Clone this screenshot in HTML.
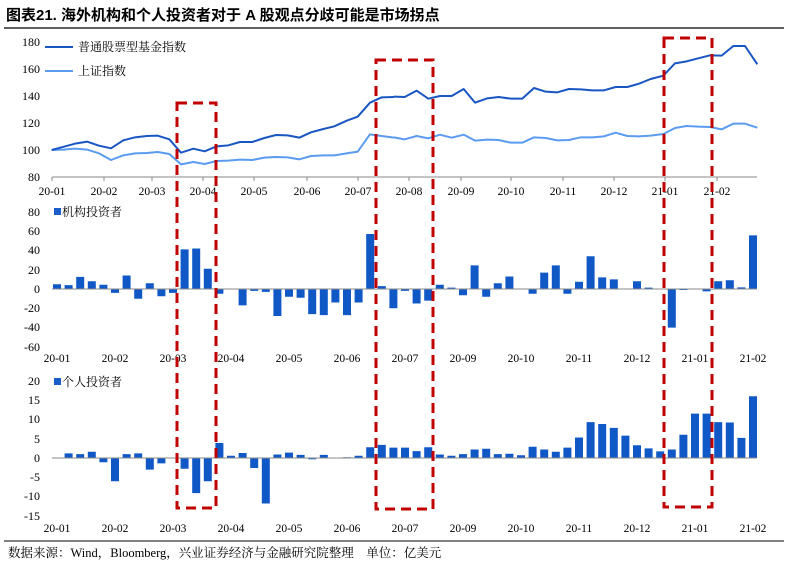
<!DOCTYPE html>
<html><head><meta charset="utf-8"><style>
html,body{margin:0;padding:0;background:#fff;}
svg{display:block;font-family:"Liberation Serif","Noto Serif CJK SC",serif;}
</style></head><body>
<svg width="788" height="567" viewBox="0 0 788 567" xmlns="http://www.w3.org/2000/svg">
<text x="6" y="20" font-size="15" font-weight="bold" font-family="'Liberation Sans','Noto Sans CJK SC',sans-serif" fill="#000">图表21. 海外机构和个人投资者对于 A 股观点分歧可能是市场拐点</text>
<line x1="4" y1="28" x2="784" y2="28" stroke="#000" stroke-width="1.3"/>

<!-- top chart -->
<g font-size="12" fill="#000" text-anchor="end">
<text x="40" y="46">180</text><text x="40" y="73">160</text><text x="40" y="100">140</text><text x="40" y="127">120</text><text x="40" y="154">100</text><text x="40" y="181">80</text>
</g>
<line x1="52" y1="177" x2="757" y2="177" stroke="#888"/>
<g stroke="#888"><line x1="52" y1="177" x2="52" y2="181"/><line x1="104" y1="177" x2="104" y2="181"/><line x1="152" y1="177" x2="152" y2="181"/><line x1="203" y1="177" x2="203" y2="181"/><line x1="254" y1="177" x2="254" y2="181"/><line x1="307" y1="177" x2="307" y2="181"/><line x1="358" y1="177" x2="358" y2="181"/><line x1="409" y1="177" x2="409" y2="181"/><line x1="461" y1="177" x2="461" y2="181"/><line x1="511" y1="177" x2="511" y2="181"/><line x1="563" y1="177" x2="563" y2="181"/><line x1="614" y1="177" x2="614" y2="181"/><line x1="665" y1="177" x2="665" y2="181"/><line x1="717" y1="177" x2="717" y2="181"/></g>
<g font-size="11.5" text-anchor="middle">
<text x="52" y="195">20-01</text><text x="104" y="195">20-02</text><text x="152" y="195">20-03</text><text x="203" y="195">20-04</text><text x="254" y="195">20-05</text><text x="307" y="195">20-06</text><text x="358" y="195">20-07</text><text x="409" y="195">20-08</text><text x="461" y="195">20-09</text><text x="511" y="195">20-10</text><text x="563" y="195">20-11</text><text x="614" y="195">20-12</text><text x="665" y="195">21-01</text><text x="717" y="195">21-02</text>
</g>
<g fill="none" stroke-linejoin="round">
<polyline transform="translate(0,30) scale(0.33333)" vector-effect="non-scaling-stroke" stroke="#5b9bf0" stroke-width="2" points="155,360 190,359 225,356 262,359 297,370 333,390 370,376 405,370 440,369 473,366 508,372 543,403 580,396 614,402 650,393 685,392 720,389 757,390 793,383 828,381 863,382 898,388 933,378 970,376 1003,376 1040,370 1073,365 1110,313 1145,318 1182,323"/>
<polyline transform="translate(394,30) scale(0.33333)" vector-effect="non-scaling-stroke" stroke="#5b9bf0" stroke-width="2" points="0,322 32,328 68,318 103,325 138,314 173,323 209,314 243,332 280,329 314,330 350,338 385,338 420,322 455,324 490,331 525,330 560,322 595,322 630,319 665,308 700,318 735,319 770,317 808,312 843,294 878,288 913,290 948,291 983,298 1018,281 1053,281 1090,293"/>
<polyline transform="translate(0,30) scale(0.33333)" vector-effect="non-scaling-stroke" stroke="#1a56c2" stroke-width="2" points="155,360 185,352 225,341 262,335 297,347 333,355 370,331 405,322 440,318 473,317 508,328 543,368 580,356 614,364 650,349 685,346 720,336 757,336 793,324 828,315 863,316 898,323 933,307 970,297 1003,289 1040,272 1073,260 1110,218 1145,202 1182,201"/>
<polyline transform="translate(394,30) scale(0.33333)" vector-effect="non-scaling-stroke" stroke="#1a56c2" stroke-width="2" points="0,200 32,201 68,182 103,206 138,198 173,198 209,177 243,218 280,205 314,201 350,206 385,206 420,174 455,185 490,187 525,177 560,178 595,181 630,181 665,171 700,171 735,161 770,147 808,137 843,100 878,94 913,85 948,76 983,77 1018,48 1053,48 1090,103"/>
</g>
<line x1="45" y1="47" x2="73" y2="47" stroke="#1a56c2" stroke-width="2"/>
<text x="78" y="51" font-size="12">普通股票型基金指数</text>
<line x1="45" y1="71" x2="73" y2="71" stroke="#5b9bf0" stroke-width="2"/>
<text x="78" y="75" font-size="12">上证指数</text>

<!-- chart 2 -->
<g font-size="12" text-anchor="end">
<text x="40" y="216">80</text><text x="40" y="235">60</text><text x="40" y="254">40</text><text x="40" y="274">20</text><text x="40" y="293">0</text><text x="40" y="312">-20</text><text x="40" y="331">-40</text><text x="40" y="351">-60</text>
</g>
<rect x="54" y="208" width="7" height="7" fill="#1a5cc8"/>
<text x="62" y="216" font-size="12">机构投资者</text>
<path fill="none" stroke="#1158c7" stroke-width="8" d="M57 289V284.2M68.6 289V285.1M80.2 289V276.9M91.8 289V281.3M103.4 289V284.7M115 289V292.9M126.6 289V275.5M138.2 289V298.7M149.8 289V283.2M161.4 289V296.2M173 289V292.9M184.6 289V249.4M196.2 289V248.5M207.8 289V268.7M219.4 289V293.8M242.6 289V305.4M254.2 289V290.9M265.8 289V291.9M277.4 289V316M289 289V296.7M300.6 289V297.7M312.2 289V314.1M323.8 289V315.1M335.4 289V302.5M347 289V315.1M358.6 289V302.5M370.2 289V234M381.8 289V286.1M393.4 289V308.3M405 289V290.9M416.6 289V303.5M428.2 289V300.6M439.8 289V284.7M451.4 289V287.6M463 289V295.3M474.6 289V265.4M486.2 289V296.7M497.8 289V283.2M509.4 289V276.5M521 289V288.5M532.6 289V293.8M544.2 289V272.6M555.8 289V265.4M567.4 289V293.8M579 289V281.8M590.6 289V256.2M602.2 289V277.4M613.8 289V279.4M637 289V281.3M648.6 289V287.6M660.2 289V288.5M671.8 289V327.6M683.4 289V290M695 289V288.5M706.6 289V291.4M718.2 289V281.3M729.8 289V280.3M741.4 289V287.4M753 289V235.4"/>
<line x1="52" y1="289" x2="757" y2="289" stroke="#888"/>
<g font-size="11.5" text-anchor="middle">
<text x="57" y="362">20-01</text><text x="115" y="362">20-02</text><text x="173" y="362">20-03</text><text x="231" y="362">20-04</text><text x="289" y="362">20-05</text><text x="347" y="362">20-06</text><text x="405" y="362">20-07</text><text x="463" y="362">20-09</text><text x="521" y="362">20-10</text><text x="579" y="362">20-11</text><text x="637" y="362">20-12</text><text x="695" y="362">21-01</text><text x="753" y="362">21-02</text>
</g>

<!-- chart 3 -->
<g font-size="12" text-anchor="end">
<text x="40" y="385">20</text><text x="40" y="404">15</text><text x="40" y="423">10</text><text x="40" y="443">5</text><text x="40" y="462">0</text><text x="40" y="481">-5</text><text x="40" y="500">-10</text><text x="40" y="520">-15</text>
</g>
<rect x="54" y="378" width="7" height="7" fill="#1a5cc8"/>
<text x="62" y="386" font-size="12">个人投资者</text>
<path fill="none" stroke="#1158c7" stroke-width="8" d="M68.6 458V453.4M80.2 458V454.1M91.8 458V451.8M103.4 458V462.2M115 458V481.2M126.6 458V454.1M138.2 458V453.4M149.8 458V469.6M161.4 458V463.4M184.6 458V468.8M196.2 458V493.1M207.8 458V481.2M219.4 458V443M231 458V455.7M242.6 458V453M254.2 458V468M265.8 458V503.5M277.4 458V454.5M289 458V452.6M300.6 458V454.9M312.2 458V459.2M323.8 458V454.9M347 458V457.2M358.6 458V455.7M370.2 458V447.2M381.8 458V444.9M393.4 458V447.6M405 458V447.6M416.6 458V451.1M428.2 458V447.2M439.8 458V454.5M451.4 458V455.7M463 458V454.1M474.6 458V449.5M486.2 458V448.7M497.8 458V454.1M509.4 458V453.8M521 458V455.3M532.6 458V446.8M544.2 458V449.5M555.8 458V451.8M567.4 458V447.6M579 458V437.5M590.6 458V422.1M602.2 458V424M613.8 458V427.9M625.4 458V435.6M637 458V445.3M648.6 458V448.4M660.2 458V451.4M671.8 458V449.5M683.4 458V434.8M695 458V413.6M706.6 458V413.6M718.2 458V422.1M729.8 458V422.5M741.4 458V437.9M753 458V396.2"/>
<line x1="52" y1="458" x2="757" y2="458" stroke="#888"/>
<g font-size="11.5" text-anchor="middle">
<text x="57" y="532">20-01</text><text x="115" y="532">20-02</text><text x="173" y="532">20-03</text><text x="231" y="532">20-04</text><text x="289" y="532">20-05</text><text x="347" y="532">20-06</text><text x="405" y="532">20-07</text><text x="463" y="532">20-09</text><text x="521" y="532">20-10</text><text x="579" y="532">20-11</text><text x="637" y="532">20-12</text><text x="695" y="532">21-01</text><text x="753" y="532">21-02</text>
</g>

<!-- red dashed boxes -->
<g fill="none" stroke="#c00000" stroke-width="3" stroke-dasharray="10,6">
<rect x="177" y="103" width="39" height="405"/>
<rect x="376" y="60" width="57" height="449"/>
<rect x="664" y="38" width="48" height="469"/>
</g>

<line x1="4" y1="541" x2="784" y2="541" stroke="#000" stroke-width="1"/>
<text x="8" y="557" font-size="12.5">数据来源：Wind，Bloomberg，兴业证券经济与金融研究院整理　单位：亿美元</text>
</svg>
</body></html>
